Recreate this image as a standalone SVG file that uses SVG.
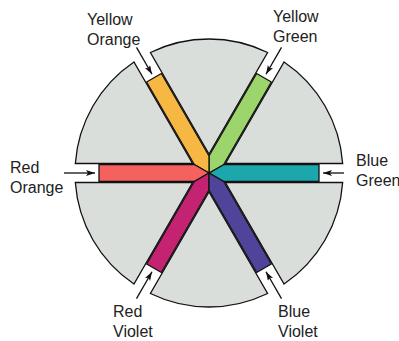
<svg xmlns="http://www.w3.org/2000/svg" width="399" height="341" viewBox="0 0 399 341">
<style>
.sector{fill:#dadedb;stroke:#111;stroke-width:1.3;stroke-linejoin:miter}
.bar{stroke:#111;stroke-width:1.3;stroke-linejoin:round}
.lbl{font-family:"Liberation Sans",Arial,sans-serif;font-size:16px;fill:#222}
.arr{stroke:#111;stroke-width:1.3;fill:none;marker-end:url(#ah)}
</style>
<defs>
<marker id="ah" markerUnits="userSpaceOnUse" markerWidth="10" markerHeight="7" refX="9" refY="3" orient="auto">
<path d="M0,0 L9,3 L0,6 L2,3 Z" fill="#111"/>
</marker>
<path id="sec" class="sector" d="M16.45,-9.5 L133.66,-9.5 A134,134 0 0,0 75.06,-111.01 Z"/>
<polygon id="bar" points="0,0 14.72,-8.5 110,-8.5 110,8.5 14.72,8.5"/>
</defs>
<rect width="399" height="341" fill="#fff"/>
<g id="wheel">
<use href="#sec" transform="translate(209,173) rotate(0)"/>
<use href="#sec" transform="translate(209,173) rotate(-60)"/>
<use href="#sec" transform="translate(209,173) rotate(-120)"/>
<use href="#sec" transform="translate(209,173) rotate(-180)"/>
<use href="#sec" transform="translate(209,173) rotate(-240)"/>
<use href="#sec" transform="translate(209,173) rotate(-300)"/>
</g>
<g id="blue-green">
<use href="#bar" class="bar" fill="#1ba7ab" transform="translate(209,173) rotate(0)"/>
<text class="lbl" x="356" y="166">Blue</text>
<text class="lbl" x="356" y="186">Green</text>
</g>
<g id="yellow-green">
<use href="#bar" class="bar" fill="#9cd56b" transform="translate(209,173) rotate(-60)"/>
<text class="lbl" x="273" y="22">Yellow</text>
<text class="lbl" x="273" y="42">Green</text>
</g>
<g id="yellow-orange">
<use href="#bar" class="bar" fill="#f7b843" transform="translate(209,173) rotate(-120)"/>
<text class="lbl" x="87" y="25">Yellow</text>
<text class="lbl" x="87" y="45">Orange</text>
</g>
<g id="red-orange">
<use href="#bar" class="bar" fill="#f4615f" transform="translate(209,173) rotate(-180)"/>
<text class="lbl" x="10" y="173">Red</text>
<text class="lbl" x="10" y="193">Orange</text>
</g>
<g id="red-violet">
<use href="#bar" class="bar" fill="#c42371" transform="translate(209,173) rotate(-240)"/>
<text class="lbl" x="113" y="317">Red</text>
<text class="lbl" x="113" y="337">Violet</text>
</g>
<g id="blue-violet">
<use href="#bar" class="bar" fill="#50449a" transform="translate(209,173) rotate(-300)"/>
<text class="lbl" x="278" y="317">Blue</text>
<text class="lbl" x="278" y="337">Violet</text>
</g>
<g id="connectors">
<line class="arr" x1="136.5" y1="47.4" x2="152" y2="74.3"/>
<line class="arr" x1="281.5" y1="47.4" x2="266" y2="74.3"/>
<line class="arr" x1="64" y1="173" x2="95" y2="173"/>
<line class="arr" x1="344" y1="173" x2="323" y2="173"/>
<line class="arr" x1="136.5" y1="298.6" x2="152" y2="271.7"/>
<line class="arr" x1="281.5" y1="298.6" x2="266" y2="271.7"/>
</g>
</svg>
